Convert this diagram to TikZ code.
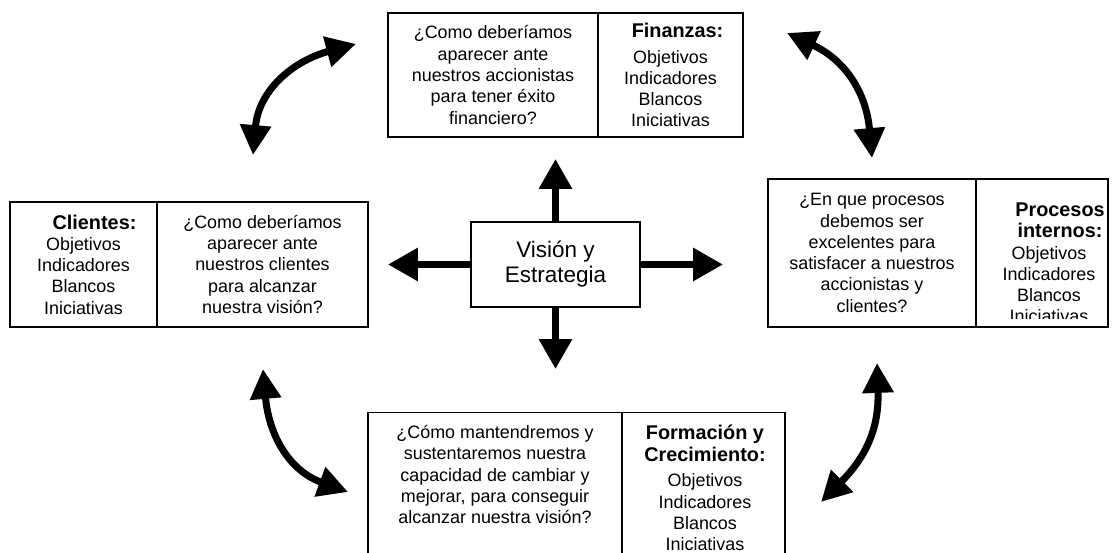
\documentclass[tikz,border=0pt]{standalone}
\usepackage{fontspec}
\setmainfont{Liberation Sans}
\usetikzlibrary{arrows.meta}

\newcommand{\titulo}[2][0pt]{{\hspace*{#1}\fontsize{11.3}{12.1}\selectfont\bfseries #2}}

\begin{document}
\begin{tikzpicture}[x=0.02cm,y=0.02cm]
    \tikzset{cell/.style = {shape=rectangle,draw,line width=0.8pt,inner sep=0pt,align=center,font=\fontsize{10.2}{12.1}\selectfont}}
    \tikzset{txt/.style = {align=center,inner sep=0pt,font=\fontsize{10.2}{12.1}\selectfont}}
    \tikzset{arr/.style = {line width=4pt,-{Triangle[width=18pt,length=17pt]}}}
    \tikzset{dbl/.style = {line width=4pt,{Triangle[width=17pt,length=17pt]}-{Triangle[width=17pt,length=17pt]}}}
    \useasboundingbox (0,0) rectangle (1112,553);
    \clip (0,0) rectangle (1112,553);

    % centro
    \node[cell, minimum width=3.38cm, minimum height=1.7cm, font=\fontsize{12.8}{14.2}\selectfont] (vis) at (555.5,288.5) {Visión y\\Estrategia};

    % finanzas
    \node[cell, minimum width=4.2cm, minimum height=2.48cm] (finq) at (493,478) {¿Como deberíamos\\aparecer ante\\nuestros accionistas\\para tener éxito\\financiero?};
    \node[cell, minimum width=2.9cm, minimum height=2.48cm] (fin) at (670.5,478) {\titulo[8pt]{Finanzas:}\\[2.5pt]Objetivos\\Indicadores\\Blancos\\Iniciativas};

    % clientes
    \node[cell, minimum width=2.94cm, minimum height=2.5cm] (cli) at (83.5,288.5) {\titulo[12.5pt]{Clientes:}\\Objetivos\\Indicadores\\Blancos\\Iniciativas};
    \node[cell, minimum width=4.22cm, minimum height=2.5cm] (cliq) at (262.5,288.5) {¿Como deberíamos\\aparecer ante\\nuestros clientes\\para alcanzar\\nuestra visión?};

    % procesos internos
    \node[cell, minimum width=4.16cm, minimum height=2.96cm] (proq) at (872,300) {¿En que procesos\\debemos ser\\excelentes para\\satisfacer a nuestros\\accionistas y\\clientes?};
    \node[cell, minimum width=2.64cm, minimum height=2.96cm] (pro) at (1042,300) {};
    \begin{scope}
        \clip (pro.north west) rectangle ([yshift=0.18cm]pro.south east);
        \node[txt] (prot) at (1049,290) {\titulo[12.5pt]{Procesos}\\\titulo[12.5pt]{internos:}\\Objetivos\\Indicadores\\Blancos\\Iniciativas};
    \end{scope}

    % formacion y crecimiento
    \node[cell, minimum width=5.08cm, minimum height=3.4cm, anchor=north] (forq) at (495,141) {};
    \node[cell, minimum width=3.26cm, minimum height=3.4cm, anchor=north] (for) at (703.5,141) {};
    \node[txt, anchor=north] (forqt) at (495,128) {¿Cómo mantendremos y\\sustentaremos nuestra\\capacidad de cambiar y\\mejorar, para conseguir\\alcanzar nuestra visión?};
    \node[txt, anchor=north] (fort) at (705,128) {\titulo{Formación y}\\\titulo{Crecimiento:}\\[2.5pt]Objetivos\\Indicadores\\Blancos\\Iniciativas};

    % flechas rectas
    \coordinate (tn) at (555.5,394);
    \coordinate (ts) at (555.5,184);
    \coordinate (tw) at (388,288.5);
    \coordinate (te) at (723,288.5);
    \draw[arr] (vis.north) -- (tn);
    \draw[arr] (vis.south) -- (ts);
    \draw[arr] (vis.west) -- (tw);
    \draw[arr] (vis.east) -- (te);

    % flechas curvas
    \coordinate (a1) at (253,398);
    \coordinate (a2) at (356,509);
    \coordinate (b1) at (787,520);
    \coordinate (b2) at (872,395);
    \coordinate (c1) at (263,184);
    \coordinate (c2) at (348,61);
    \coordinate (d1) at (877,190);
    \coordinate (d2) at (821,51);
    \draw[dbl] (a1) to[out=85,in=195,looseness=1.1] (a2);
    \draw[dbl] (b1) to[out=-25,in=95,looseness=1.1] (b2);
    \draw[dbl] (c1) to[out=-85,in=160,looseness=1.1] (c2);
    \draw[dbl] (d1) to[out=-88,in=45,looseness=1.1] (d2);
\end{tikzpicture}
\end{document}
